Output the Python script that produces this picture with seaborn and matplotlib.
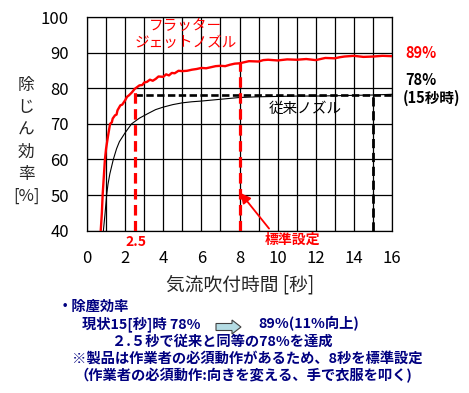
import numpy as np
import pandas as pd
import matplotlib
matplotlib.use("Agg")
import matplotlib.pyplot as plt
import matplotlib.patches as mpatches
import seaborn as sns

# ---- data -------------------------------------------------------------
t_red = [0.72, 0.78, 0.82, 0.88, 0.94, 1.0, 1.1, 1.21, 1.3, 1.35, 1.47, 1.55, 1.6, 1.75,
         1.85, 2.0, 2.1, 2.2, 2.35, 2.5, 2.75, 2.9, 3.0, 3.15, 3.3, 3.45, 3.6, 3.75, 4.0,
         4.15, 4.3, 4.45, 4.6, 4.8, 5.0, 5.25, 5.5, 5.75, 6.0, 6.25, 6.5, 6.75, 7.0,
         7.25, 7.5, 7.75, 8.0, 8.5, 9.0, 9.25, 9.5, 10.0, 10.5, 11.0, 11.5, 12.0,
         12.5, 13.0, 13.25, 13.5, 14.0, 14.5, 15.0, 15.5, 16.0]
eff_red = [40, 45, 50, 55, 60, 63, 66.5, 70, 70.4, 71.5, 72.4, 72.6, 73.8, 75.2,
           75.4, 76.6, 77.6, 78, 78.8, 79.8, 80.8, 80.9, 81.6, 81.8, 82.4, 82.1, 82.6, 83.3, 83.2,
           83.9, 83.6, 84.3, 84.2, 84.9, 84.8, 84.9, 85.2, 85.4, 85.7, 85.6, 85.9, 86.2, 86.3,
           86.2, 86.6, 86.9, 87.0, 87.6, 87.5, 87.9, 88.0, 87.8, 88.1, 88.0, 88.2, 87.9,
           88.5, 88.4, 88.7, 88.9, 89.1, 88.8, 88.9, 89.1, 89.0]

t_blk = [0.86, 0.95, 1.03, 1.1, 1.2, 1.38, 1.55, 1.7, 2.0, 2.34, 2.75, 3.2, 3.6,
         4.0, 4.5, 5.0, 5.5, 6.0, 7.0, 8.0, 9.0, 10.0, 11.0, 12.0, 13.0, 14.0,
         15.0, 16.0]
eff_blk = [40, 45, 50, 53, 56, 60, 63, 65, 67.5, 70, 71.6, 72.9, 74.0,
           74.7, 75.4, 75.9, 76.2, 76.4, 76.9, 77.4, 77.6, 77.7, 77.8, 77.8, 77.9, 78.0,
           78.1, 78.3]

t_equal = 2.5      # time flutter nozzle reaches 78 %
t_std = 8          # standard setting
t_now = 15         # current setting
eff_now = 78
eff_std = 87.2

x_ticks = [0, 2, 4, 6, 8, 10, 12, 14, 16]
y_ticks = [40, 50, 60, 70, 80, 90, 100]

# ---- style ------------------------------------------------------------
sns.set_style("white")
plt.rcParams["font.family"] = ["Noto Sans CJK JP", "DejaVu Sans"]

W, H = 469, 393
fig = plt.figure(figsize=(W / 100, H / 100), dpi=100)
L, R, T, B = 87, 392, 17, 230.7
ax = fig.add_axes([L / W, 1 - B / H, (R - L) / W, (B - T) / H])

def fx(x):
    return x / W

def fy(y):
    return 1 - y / H

RED = "#FF0000"
NAVY = "#000080"

df_red = pd.DataFrame({"t": t_red, "eff": eff_red})
df_blk = pd.DataFrame({"t": t_blk, "eff": eff_blk})
sns.lineplot(data=df_red, x="t", y="eff", ax=ax, color=RED, lw=1.7, zorder=5)
sns.lineplot(data=df_blk, x="t", y="eff", ax=ax, color="black", lw=0.8, zorder=4)

# reference dashed lines
ax.plot([t_equal, t_equal], [40, eff_now + 1], color=RED, lw=2.3,
        dashes=(3.3, 1.7), zorder=6)
ax.plot([t_std, t_std], [40, eff_std], color=RED, lw=2.3,
        dashes=(3.3, 1.7), zorder=6)
ax.plot([t_equal, 16], [eff_now, eff_now], color="black", lw=1.9,
        dashes=(2.8, 1.3), zorder=3)
ax.plot([t_now, t_now], [40, eff_now], color="black", lw=2.0,
        dashes=(3.3, 1.7), zorder=3)

ax.set_xlim(0, 16)
ax.set_ylim(40, 100)
ax.set_xticks(x_ticks)
ax.set_xticks(np.arange(0, 17, 1), minor=True)
ax.set_yticks(y_ticks)
ax.grid(True, which="both", axis="x", color="black", lw=0.9)
ax.grid(True, which="major", axis="y", color="black", lw=0.9)
ax.set_axisbelow(True)
for s in ax.spines.values():
    s.set_color("black")
    s.set_linewidth(0.9)
ax.tick_params(axis="both", which="both", length=0, labelsize=12, colors="black")
ax.tick_params(axis="y", pad=13)
ax.tick_params(axis="x", pad=14)
ax.set_xlabel("")
ax.set_ylabel("")

# arrow to standard setting
ax.annotate("", xy=(8.05, 50.6), xytext=(9.55, 40.6),
            arrowprops=dict(arrowstyle="-|>,head_length=0.6,head_width=0.3",
                            color=RED, lw=1.3, shrinkA=0, shrinkB=0),
            annotation_clip=False, zorder=7)

# chart annotations
fig.text(fx(185), fy(26), "フラッター", color=RED, fontsize=10.5, ha="center", va="center")
fig.text(fx(186), fy(42.5), "ジェットノズル", color=RED, fontsize=10.5, ha="center", va="center")
fig.text(fx(305), fy(109), "従来ノズル", color="black", fontsize=10.5, ha="center", va="center")
fig.text(fx(405), fy(53), "89%", color=RED, fontsize=10.5, fontweight="bold", ha="left", va="center")
fig.text(fx(405), fy(80), "78%", color="black", fontsize=10.5, fontweight="bold", ha="left", va="center")
fig.text(fx(403), fy(98), "(15秒時)", color="black", fontsize=10.5, fontweight="bold", ha="left", va="center")
fig.text(fx(136), fy(242), "2.5", color=RED, fontsize=10, fontweight="bold", ha="center", va="center")
fig.text(fx(292), fy(240), "標準設定", color=RED, fontsize=10, fontweight="bold", ha="center", va="center")

# axis labels
fig.text(fx(26), fy(141), "除\nじ\nん\n効\n率\n[%]", fontsize=12, ha="center", va="center",
         linespacing=1.4)
fig.text(fx(240), fy(285.5), "気流吹付時間 [秒]", fontsize=13.5, ha="center", va="center")

# bottom summary text
kw = dict(color=NAVY, fontsize=10.3, fontweight="bold", va="center", ha="left")
fig.text(fx(58), fy(306.5), "・除塵効率", **kw)
fig.text(fx(82), fy(324), "現状15[秒]時 78%", **kw)
fig.text(fx(258), fy(324), "89%(11%向上)", **kw)
fig.text(fx(112), fy(341.5), "２.５秒で従来と同等の78%を達成", **kw)
fig.text(fx(72), fy(359), "※製品は作業者の必須動作があるため、8秒を標準設定", **kw)
fig.text(fx(74), fy(376), "（作業者の必須動作:向きを変える、手で衣服を叩く)", **kw)

arr = mpatches.FancyArrow(fx(216), fy(327), fx(241) - fx(216), 0,
                          width=7 / H, head_width=14 / H, head_length=fx(9),
                          length_includes_head=True, transform=fig.transFigure,
                          facecolor="#B4DCE4", edgecolor="#404040", lw=0.8)
fig.patches.append(arr)

fig.savefig("out.png", dpi=100, facecolor="white")
